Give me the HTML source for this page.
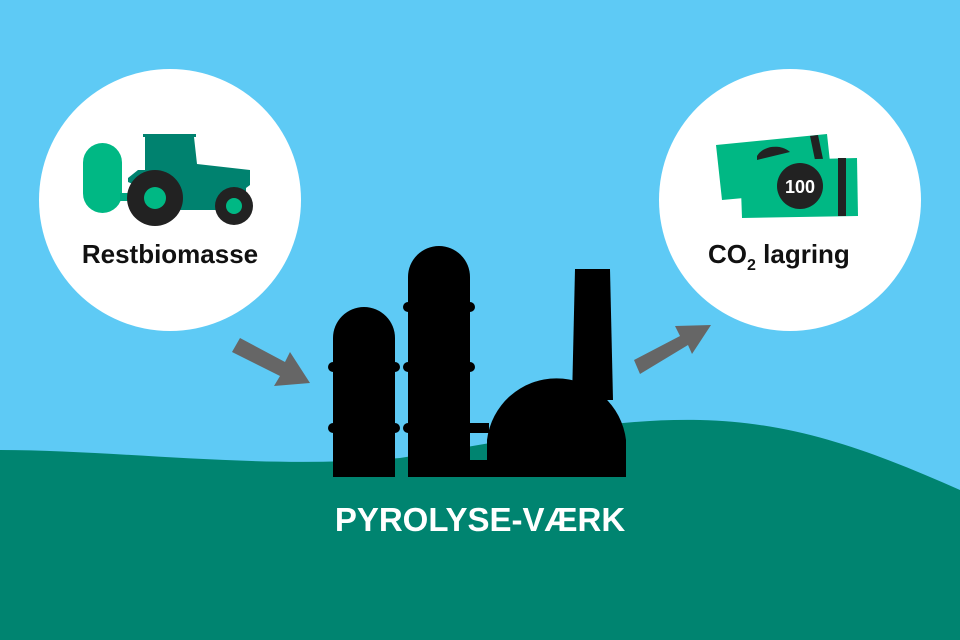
<!DOCTYPE html>
<html><head><meta charset="utf-8"><style>
html,body{margin:0;padding:0;width:960px;height:640px;overflow:hidden;background:#5ecaf5}
svg{display:block}
text{font-family:"Liberation Sans",sans-serif;font-weight:bold}
</style></head><body>
<svg width="960" height="640" viewBox="0 0 960 640" xmlns="http://www.w3.org/2000/svg">
<rect width="960" height="640" fill="#5ecaf5"/>
<path d="M0,450 C120,450 260,470 400,458 C520,440 600,418 700,420 C800,422 880,455 960,490 L960,640 L0,640 Z" fill="#008470"/>
<circle cx="170" cy="200" r="131" fill="#fff"/>
<circle cx="790" cy="200" r="131" fill="#fff"/>
<rect x="83" y="143" width="39" height="70" rx="19.5" fill="#00b884"/>
<rect x="120" y="193" width="20" height="8" fill="#00a882"/>
<path d="M143,134 H196 V137 H194 L197,164 L250,170 V185 L246,188 V210 H135 V185 L128,182 V178 L138,170 H145 V137 H143 Z" fill="#00826f"/>
<circle cx="155" cy="198" r="28" fill="#222"/>
<circle cx="155" cy="198" r="11" fill="#00b884"/>
<circle cx="234" cy="206" r="19" fill="#222"/>
<circle cx="234" cy="206" r="8" fill="#00b884"/>
<text x="170" y="263" font-size="26" text-anchor="middle" fill="#111">Restbiomasse</text>
<polygon points="716,145 827,134 833,190 722,200" fill="#00b884"/>
<polygon points="810,136 818,135 823,159 815,160" fill="#222"/>
<path d="M757,156 A20,16 0 0 1 790,152 L757,160 Z" fill="#222"/>
<polygon points="740,161 857,158 858,216 742,218" fill="#00b884"/>
<polygon points="838,158 846,158 846,216 838,216" fill="#222"/>
<circle cx="800" cy="186" r="23" fill="#222"/>
<text x="800" y="193" font-size="18" text-anchor="middle" fill="#fff">100</text>
<text x="708" y="263" font-size="26" fill="#111">CO<tspan font-size="16" dy="7">2</tspan><tspan dy="-7"> lagring</tspan></text>
<g fill="#666">
<polygon points="232,352 240,338 285,362 290,352 310,383 274,386 280,376"/>
<polygon points="640,374 634,360 680,336 675,326 711,325 692,354 688,345"/>
</g>
<g fill="#000">
<path d="M333,477 V338 A31,31 0 0 1 395,338 V477 Z"/>
<path d="M408,477 V277 A31,31 0 0 1 470,277 V477 Z"/>
<path d="M487,477 V440 A70,70 0 0 1 626,440 V477 Z"/>
<polygon points="575,269 610,269 613,400 572,400"/>
<rect x="468" y="423" width="21" height="10"/>
<rect x="468" y="460" width="21" height="17"/>
<circle cx="333" cy="367" r="5"/><circle cx="395" cy="367" r="5"/>
<circle cx="333" cy="428" r="5"/><circle cx="395" cy="428" r="5"/>
<circle cx="408" cy="307" r="5"/><circle cx="470" cy="307" r="5"/>
<circle cx="408" cy="367" r="5"/><circle cx="470" cy="367" r="5"/>
<circle cx="408" cy="428" r="5"/><circle cx="470" cy="428" r="5"/>
</g>
<text x="480" y="531" font-size="33" text-anchor="middle" fill="#fff">PYROLYSE-VÆRK</text>
</svg>
</body></html>
